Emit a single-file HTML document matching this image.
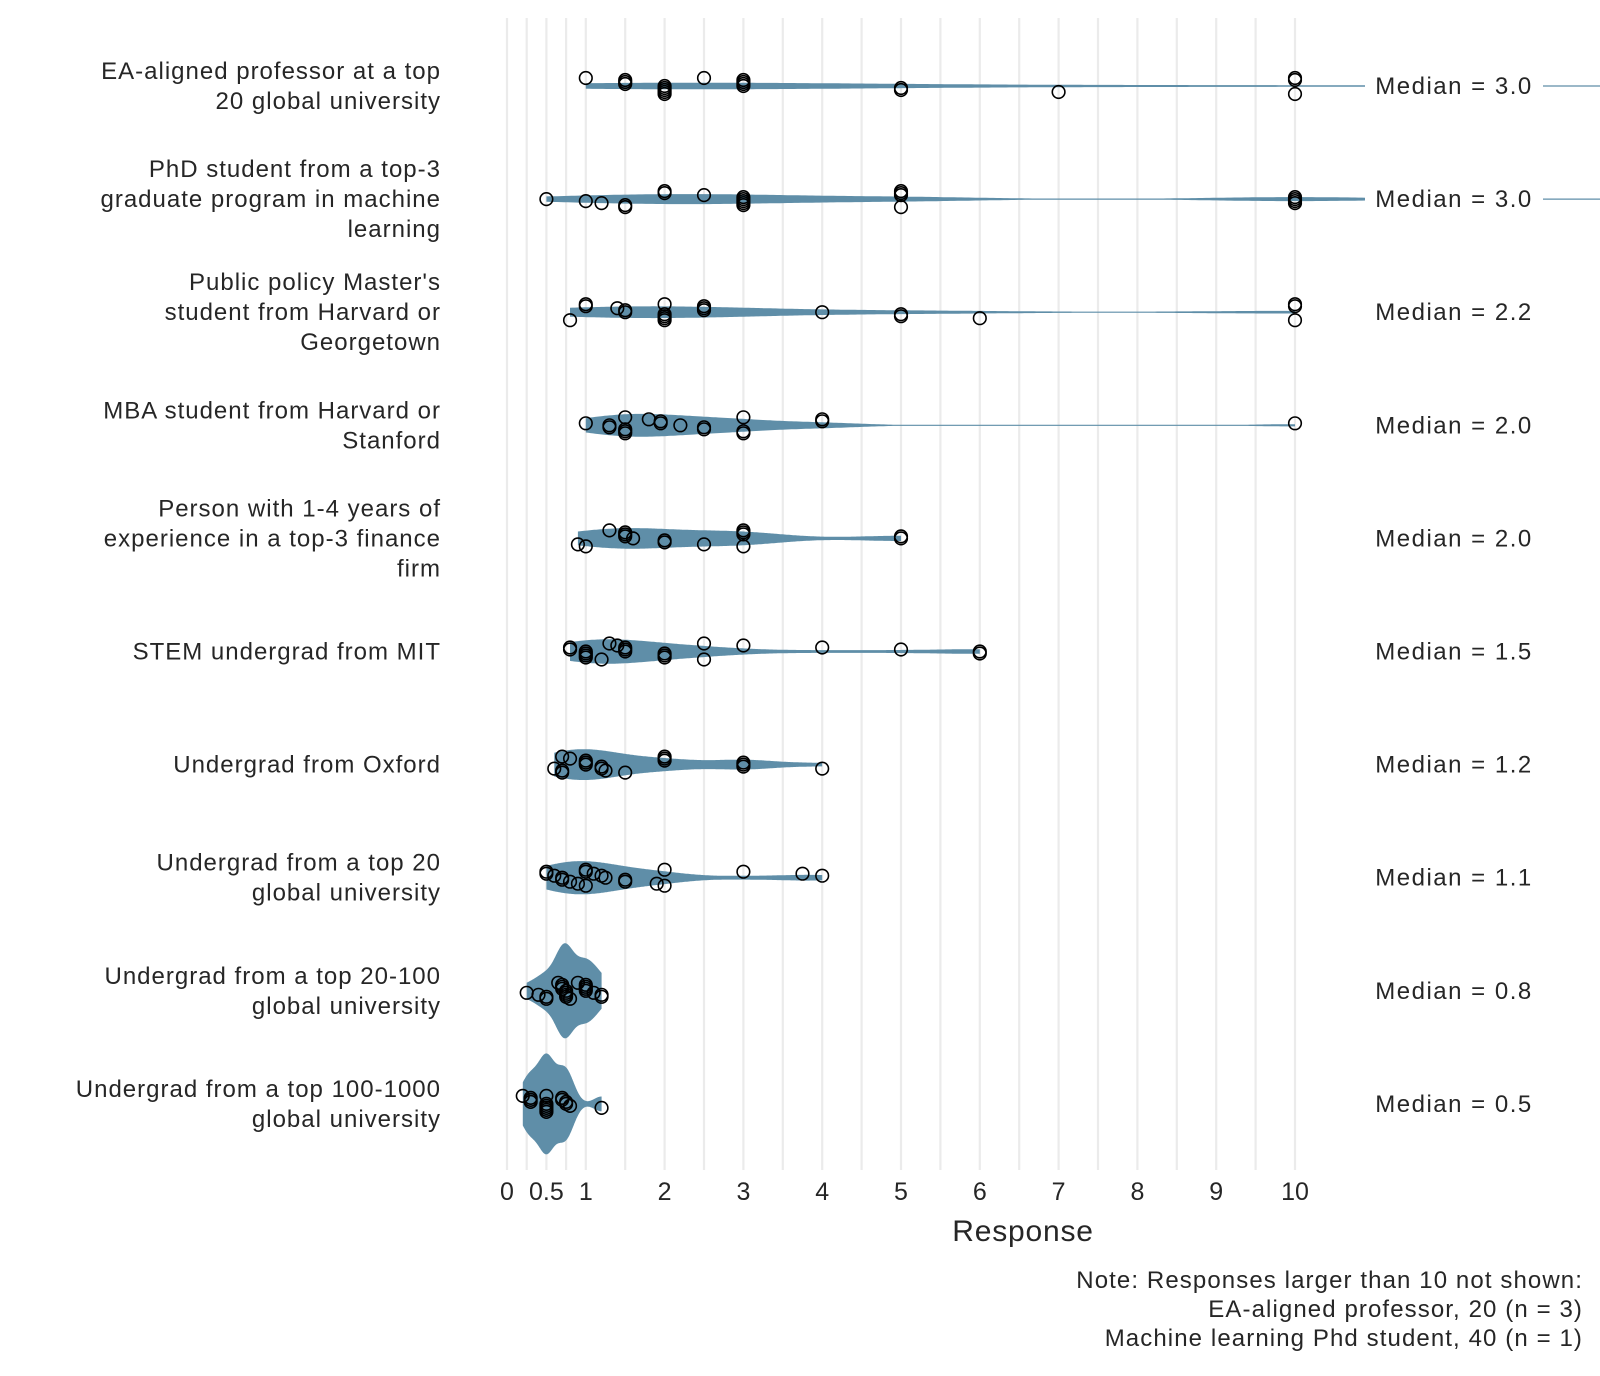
<!DOCTYPE html>
<html><head><meta charset="utf-8"><style>
body{margin:0;background:#fff;}
svg text{font-family:"Liberation Sans",sans-serif;fill:#262626;}
</style></head><body>
<svg id="chart" width="1600" height="1371" viewBox="0 0 1600 1371" xmlns="http://www.w3.org/2000/svg">
<g id="grid"></g>
<g id="violins"></g>
<g id="points"></g>
<g id="labels"></g>
<text x="1023" y="1241" font-size="30" text-anchor="middle" letter-spacing="0.8">Response</text>
<g font-size="24" text-anchor="end" letter-spacing="1.1">
<text x="1583" y="1288">Note: Responses larger than 10 not shown:</text>
<text x="1583" y="1317">EA-aligned professor, 20 (n = 3)</text>
<text x="1583" y="1346">Machine learning Phd student, 40 (n = 1)</text>
</g>
</svg>
<script>
const categories = [
 ["EA-aligned professor at a top","20 global university"],
 ["PhD student from a top-3","graduate program in machine","learning"],
 ["Public policy Master's","student from Harvard or","Georgetown"],
 ["MBA student from Harvard or","Stanford"],
 ["Person with 1-4 years of","experience in a top-3 finance","firm"],
 ["STEM undergrad from MIT"],
 ["Undergrad from Oxford"],
 ["Undergrad from a top 20","global university"],
 ["Undergrad from a top 20-100","global university"],
 ["Undergrad from a top 100-1000","global university"]
];
const medians = ["3.0","3.0","2.2","2.0","2.0","1.5","1.2","1.1","0.8","0.5"];
const responses = [
 [1,1.5,1.5,1.5,2,2,2,2,2,2.5,3,3,3,3,5,5,7,10,10,10],
 [0.5,1,1.2,1.5,1.5,2,2,2.5,3,3,3,3,3,5,5,5,5,10,10,10,10],
 [0.8,1,1,1.4,1.5,1.5,2,2,2,2,2,2.5,2.5,2.5,4,5,5,6,10,10,10],
 [1,1.3,1.3,1.5,1.5,1.5,1.5,1.8,1.95,1.95,2.2,2.5,2.5,3,3,3,4,4,10],
 [0.9,1,1.3,1.5,1.5,1.5,1.6,2,2,2.5,3,3,3,3,5,5],
 [0.8,0.8,1,1,1,1,1.2,1.3,1.4,1.5,1.5,1.5,2,2,2,2.5,2.5,3,4,5,6,6],
 [0.6,0.7,0.7,0.7,0.8,1,1,1,1.2,1.2,1.25,1.5,2,2,2,3,3,3,4],
 [0.5,0.5,0.6,0.7,0.7,0.8,0.9,1,1,1,1.1,1.2,1.25,1.5,1.5,1.9,2,2,3,3.75,4],
 [0.25,0.4,0.5,0.5,0.65,0.7,0.7,0.7,0.75,0.75,0.75,0.75,0.8,0.9,1,1,1,1,1.1,1.2,1.2],
 [0.2,0.3,0.3,0.3,0.5,0.5,0.5,0.5,0.5,0.5,0.7,0.7,0.75,0.75,0.8,1.2]
];
const hiddenResponses = [[20,20,20],[40],[],[],[],[],[],[],[],[]];
const xTicks = [0,0.5,1,2,3,4,5,6,7,8,9,10];
const xTickLabels = ["0","0.5","1","2","3","4","5","6","7","8","9","10"];
const gridValues = [0,0.25,0.5,0.75,1,1.5,2,2.5,3,3.5,4,4.5,5,5.5,6,6.5,7,7.5,8,8.5,9,9.5,10];

const NS="http://www.w3.org/2000/svg";
const x = v => 507 + 78.8*v;
const rowY = i => 86 + 113.1*i;
function mk(tag, attrs, parent){const e=document.createElementNS(NS,tag);for(const k in attrs)e.setAttribute(k,attrs[k]);parent.appendChild(e);return e;}

const grid=document.getElementById('grid');
gridValues.forEach(g=>{
 const l=mk('line',{x1:x(g),x2:x(g),y1:18,y2:1170,stroke:'#ebebeb','stroke-width':2.2},grid);
 
 
});
const labels=document.getElementById('labels');
xTicks.forEach((t,i)=>{
 const tx=mk('text',{x:x(t),y:1200,'font-size':25,'text-anchor':'middle'},labels);
 tx.textContent=xTickLabels[i];
 
 
});

const vg=document.getElementById('violins'), pg=document.getElementById('points');
responses.forEach((vals,i)=>{
 const cy=rowY(i);
 const all=vals.concat(hiddenResponses[i]);
 const n=all.length, mean=all.reduce((a,b)=>a+b,0)/n;
 const sd=Math.sqrt(all.reduce((a,b)=>a+(b-mean)**2,0)/(n-1));
 const s=[...all].sort((a,b)=>a-b);
 const q=p=>{const h=(n-1)*p,lo=Math.floor(h);return s[lo]+(s[Math.min(lo+1,n-1)]-s[lo])*(h-lo);};
 const iqr=q(0.75)-q(0.25);
 const bw=0.9*Math.min(sd, iqr>0?iqr/1.34:sd)*Math.pow(n,-0.2);
 const lo=s[0], hi=Math.min(s[n-1],14);
 const dens=v=>all.reduce((a,d)=>a+Math.exp(-0.5*((v-d)/bw)**2),0)/(n*bw*Math.sqrt(2*Math.PI));
 const K=30;
 const top=[],bot=[];
 for(let k=0;k<=300;k++){const v=lo+(hi-lo)*k/300;const h=Math.max(K*dens(v),0.6);top.push([x(v),cy-h]);bot.push([x(v),cy+h]);}
 const d='M'+top.map(p=>p[0].toFixed(1)+','+p[1].toFixed(1)).join('L')+'L'+bot.reverse().map(p=>p[0].toFixed(1)+','+p[1].toFixed(1)).join('L')+'Z';
 const path=mk('path',{d:d,fill:'#5f8ea8'},vg);
 
 
 vals.forEach((v,j)=>{
  const off=(((j*37+i*13)%9)-4)*2.0;
  const c=mk('circle',{cx:x(v),cy:cy+off,r:6.3,fill:'none',stroke:'#000','stroke-width':1.6},pg);
  
  
 });
 const lines=categories[i];
 lines.forEach((ln,k)=>{
  const t=mk('text',{x:441,y:cy+8+(k-(lines.length-1)/2)*30,'font-size':24,'text-anchor':'end','letter-spacing':1},labels);
  t.textContent=ln;
  
  
 });
 const r=mk('rect',{x:1365,y:cy-18,width:178,height:36,fill:'#fff'},labels);
 
 
 const m=mk('text',{x:1454,y:cy+8,'font-size':24,'text-anchor':'middle','letter-spacing':1.5},labels);
 m.textContent='Median = '+medians[i];
 
 
});
</script>
</body></html>
